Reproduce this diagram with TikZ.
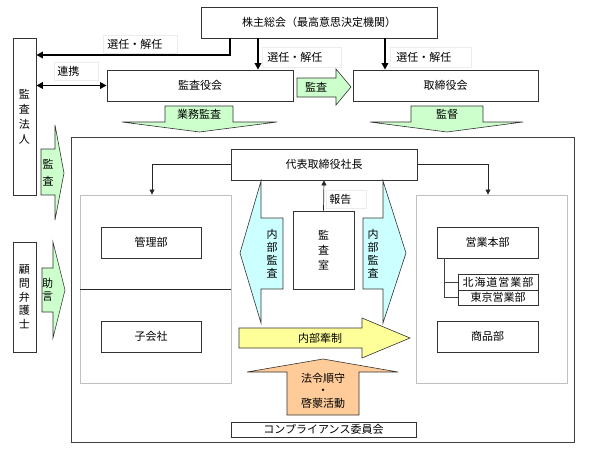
\documentclass[tikz,border=0pt]{standalone}
\usepackage{fontspec}
\setmainfont{Noto Sans CJK JP}
\usetikzlibrary{arrows.meta}
\definecolor{agreen}{HTML}{CCFFCC}
\definecolor{acyan}{HTML}{CCFFFF}
\definecolor{ayellow}{HTML}{FFFF99}
\definecolor{aorange}{HTML}{FFCC99}
\definecolor{igray}{HTML}{C0C0C0}
\definecolor{lgray}{HTML}{ECECEC}
\newcommand\jfs{\fontsize{11}{13}\selectfont}
\tikzset{
  box/.style={draw=black!80, line width=0.8pt, fill=white, inner sep=0pt, font=\jfs},
  graybox/.style={draw=igray, line width=0.9pt, inner sep=0pt},
  lab/.style={draw=lgray, line width=0.6pt, fill=white, inner xsep=4pt, inner ysep=0pt,
              align=left, anchor=west, font=\jfs},
  blockarrow/.style={draw=black!80, line width=0.6pt},
  vtext/.style={align=center, inner sep=0pt, font=\fontsize{11}{#1}\selectfont},
  tarrow/.style={line width=1.8pt, -{Triangle[length=6.5pt,width=6.5pt]}},
  tharrow/.style={line width=0.7pt, draw=black!85, -{Triangle[length=5pt,width=5pt]}}
}
\begin{document}
\begin{tikzpicture}[x=1pt,y=-1pt]
\useasboundingbox (0,0) rectangle (589,450);
% helper coordinates
\coordinate (x230) at (230,0);
\coordinate (x258) at (258,0);
\coordinate (x385) at (385,0);
\coordinate (x152) at (152,0);
\coordinate (x488) at (488,0);
\coordinate (x444) at (444,0);
\coordinate (y55) at (0,55);

% outer frame
\node[draw=black!75, line width=0.9pt, inner sep=0pt, minimum width=503pt, minimum height=305pt] (outer) at (322.5,289.5) {};

% top boxes
\node[box, minimum width=236pt, minimum height=31pt] (soukai) at (319,22.5) {株主総会（最高意思決定機関）};
\node[box, minimum width=23pt, minimum height=157pt] (hojin) at (24.5,116.5) {};
\node[vtext=15] at (hojin) {監\\査\\法\\人};
\node[box, minimum width=186pt, minimum height=31pt] (kansayaku) at (200,85.5) {監査役会};
\node[box, minimum width=185pt, minimum height=31pt] (torishimari) at (445.5,85.5) {取締役会};
\node[box, minimum width=23pt, minimum height=110pt] (komon) at (24.5,297) {};
\node[vtext=13.7] at (komon) {顧\\問\\弁\\護\\士};

% selection arrows
\draw[tarrow] (soukai.south -| x230) |- (hojin.east |- y55);
\draw[tarrow] (soukai.south -| x258) -- (kansayaku.north -| x258);
\draw[tarrow] (soukai.south -| x385) -- (torishimari.north -| x385);
\draw[line width=1.8pt, {Triangle[length=6.5pt,width=6.5pt]}-{Triangle[length=6.5pt,width=6.5pt]}] (hojin.east |- kansayaku.west) -- (kansayaku.west);

% labels
\node[lab, text width=66pt, minimum height=18pt] (l1) at (103,44) {選任・解任};
\node[lab, text width=69pt, minimum height=20pt, inner xsep=5pt] (l2) at (262,57) {選任・解任};
\node[lab, text width=69pt, minimum height=20pt, inner xsep=6pt] (l3) at (390,57) {選任・解任};
\node[lab, text width=38pt, minimum height=18pt, inner xsep=3pt] (l4) at (54,71) {連携};

% block arrows (top)
\draw[blockarrow, fill=agreen] (297,78) -- (336,78) -- (336,69) -- (351,87) -- (336,105) -- (336,97) -- (297,97) -- cycle;
\node[font=\jfs, inner sep=0pt] (tkansa) at (316,87.5) {監査};
\draw[blockarrow, fill=agreen] (165,106) -- (233,106) -- (233,122) -- (277,122) -- (199.5,132) -- (122,122) -- (165,122) -- cycle;
\node[font=\jfs, inner sep=0pt] (tgyomu) at (199,114) {業務監査};
\draw[blockarrow, fill=agreen] (411,106) -- (483,106) -- (483,122) -- (523,122) -- (447,132) -- (370,122) -- (411,122) -- cycle;
\node[font=\jfs, inner sep=0pt] (tkantoku) at (447,114) {監督};

% left side arrows
\draw[blockarrow, fill=agreen] (41,149) -- (55,149) -- (55,125) -- (64,173) -- (55,220) -- (55,195) -- (41,195) -- cycle;
\node[vtext=17] (tkansa2) at (48,173) {監\\査};
\draw[blockarrow, fill=agreen] (42,268) -- (53,268) -- (53,242) -- (65,290) -- (53,338) -- (53,312) -- (42,312) -- cycle;
\node[vtext=13] (tjogen) at (47.5,290) {助\\言};

% inside frame
\node[box, minimum width=186pt, minimum height=31pt] (daihyo) at (324,164.5) {代表取締役社長};
\node[graybox, minimum width=151pt, minimum height=188pt] (lgbox) at (155.5,289) {};
\node[graybox, minimum width=151pt, minimum height=188pt] (rgbox) at (491.5,289) {};
\draw[line width=0.9pt, black!85] (lgbox.west) -- (lgbox.east);
\draw[tharrow] (daihyo.west) -| (lgbox.north -| x152);
\draw[tharrow] (daihyo.east) -| (rgbox.north -| x488);

\node[box, minimum width=100pt, minimum height=31pt] (kanri) at (151,242.5) {管理部};
\node[box, minimum width=100pt, minimum height=31pt] (kogaisha) at (151,336.5) {子会社};
\node[box, minimum width=101pt, minimum height=31pt] (eigyo) at (487.5,242.5) {営業本部};
\node[box, minimum width=80pt, minimum height=16pt] (hokkaido) at (498,282) {\addfontfeature{LetterSpace=9}北海道営業部};
\node[box, minimum width=80pt, minimum height=15pt] (tokyo) at (498,297.5) {東京営業部};
\node[box, minimum width=101pt, minimum height=31pt] (shohin) at (487.5,336.5) {商品部};
\draw[line width=0.7pt, black!75] (eigyo.south -| x444) |- (tokyo.west);
\draw[line width=0.7pt, black!75] (hokkaido.west -| x444) -- (hokkaido.west);

\node[box, minimum width=61pt, minimum height=78pt] (shitsu) at (323.5,250) {};
\node[vtext=15] at (shitsu) {監\\査\\室};
\draw[tharrow] (shitsu.north) -- (daihyo.south);
\node[lab, text width=34pt, minimum height=18pt, inner xsep=3pt] (l5) at (326,199) {報告};

% internal audit arrows
\draw[blockarrow, fill=acyan] (283,218) -- (261,218) -- (261,181) -- (240,253) -- (261,323) -- (261,289) -- (283,289) -- cycle;
\node[vtext=13] (tnai1) at (272,254) {内\\部\\監\\査};
\draw[blockarrow, fill=acyan] (363,218) -- (383,218) -- (383,181) -- (406,253) -- (383,323) -- (383,289) -- (363,289) -- cycle;
\node[vtext=13] (tnai2) at (373,254) {内\\部\\監\\査};

% internal control
\draw[blockarrow, fill=ayellow] (239,328) -- (362,328) -- (362,318) -- (410,338) -- (362,358) -- (362,348) -- (239,348) -- cycle;
\node[font=\jfs, inner sep=0pt] (tnaibu) at (320,338) {内部牽制};

% compliance arrow
\draw[blockarrow, fill=aorange] (287,415) -- (359,415) -- (359,372) -- (398,372) -- (323,359) -- (247,372) -- (287,372) -- cycle;
\node[vtext=12.5] (thorei) at (323,390.5) {法令順守\\・\\啓蒙活動};

\node[box, minimum width=185pt, minimum height=15pt] (compliance) at (323.5,429.5) {コンプライアンス委員会};
\end{tikzpicture}
\end{document}
